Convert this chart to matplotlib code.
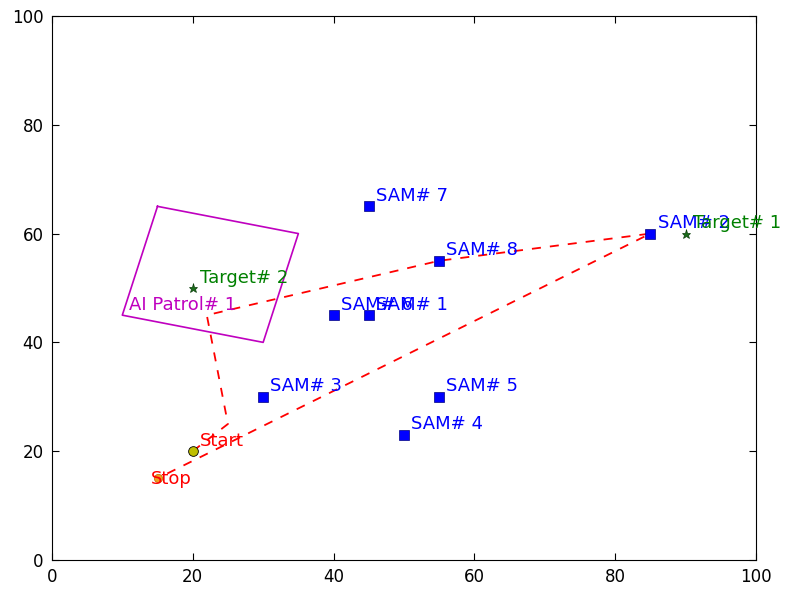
import matplotlib
matplotlib.use("Agg")
import matplotlib.pyplot as plt

sam_names = ["SAM# 1", "SAM# 2", "SAM# 3", "SAM# 4", "SAM# 5", "SAM# 6", "SAM# 7", "SAM# 8"]
sam_x = [45, 85, 30, 50, 55, 40, 45, 55]
sam_y = [45, 60, 30, 23, 30, 45, 65, 55]

target_names = ["Target# 1", "Target# 2"]
target_x = [90, 20]
target_y = [60, 50]

patrol_name = "AI Patrol# 1"
patrol_x = [15, 35, 30, 10, 15]
patrol_y = [65, 60, 40, 45, 65]

start_xy = (20, 20)
stop_xy = (15, 15)

path_x = [20, 25, 22, 55, 85, 15]
path_y = [20, 25, 45, 55, 60, 15]

FS = 13

fig = plt.figure(figsize=(7.86, 5.91), dpi=100)
ax = fig.add_axes([0.066, 0.0525, 0.896, 0.9205])

ax.plot(patrol_x, patrol_y, color="#bf00bf", lw=1.2)
ax.text(patrol_x[3] + 1, patrol_y[3] + 1, patrol_name, color="#bf00bf", fontsize=FS)

ax.plot(path_x, path_y, "--", color="red", lw=1.3, dashes=(5, 5))

ax.plot(sam_x, sam_y, "s", color="blue", markersize=6.5, markeredgecolor="#000080", markeredgewidth=0.5, linestyle="none")
for n, x, y in zip(sam_names, sam_x, sam_y):
    ax.text(x + 1, y + 1, n, color="blue", fontsize=FS)

ax.plot(target_x, target_y, "*", color="#1a6e1a", markersize=6.5, markeredgecolor="#0b3d0b", markeredgewidth=0.5, linestyle="none")
for n, x, y in zip(target_names, target_x, target_y):
    ax.text(x + 1, y + 1, n, color="green", fontsize=FS)

ax.plot([start_xy[0]], [start_xy[1]], "o", color="#bfbf00", markeredgecolor="black", markeredgewidth=0.6, markersize=7)
ax.text(start_xy[0] + 1, start_xy[1] + 1, "Start", color="red", fontsize=FS)

ax.plot([stop_xy[0]], [stop_xy[1]], "o", color="#f0a020", markeredgecolor="#c06000", markeredgewidth=0.5, markersize=6)
ax.text(stop_xy[0] - 1, stop_xy[1] - 1, "Stop", color="red", fontsize=FS)

ax.set_xlim(0, 100)
ax.set_ylim(0, 100)
ax.set_xticks([0, 20, 40, 60, 80, 100])
ax.set_yticks([0, 20, 40, 60, 80, 100])
ax.tick_params(direction="in", top=True, right=True, labelsize=12, length=5, pad=6)

fig.savefig("out.png", dpi=100)
